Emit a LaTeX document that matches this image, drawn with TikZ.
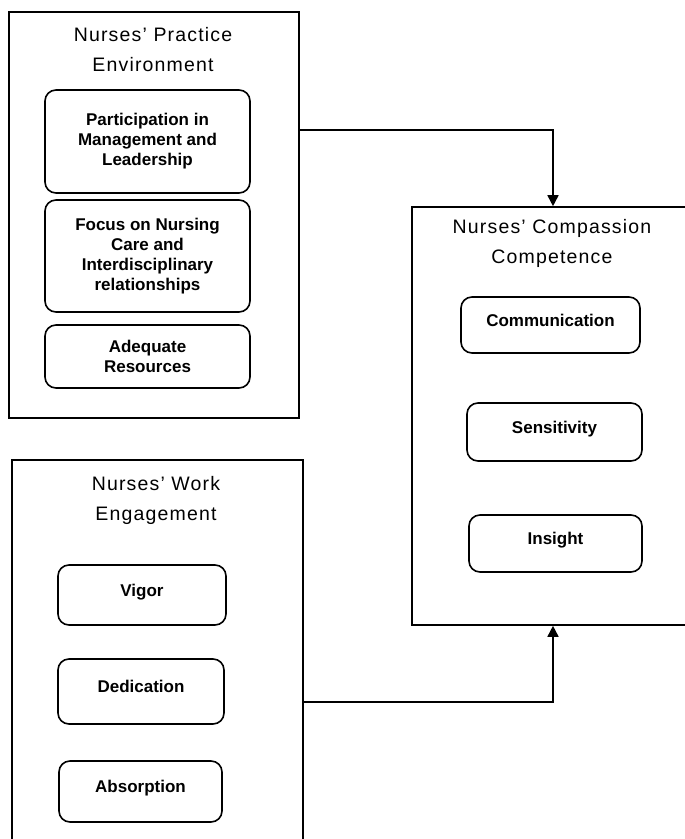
\documentclass[tikz,border=0pt]{standalone}
\usepackage{fontspec}
\setsansfont{Liberation Sans}
\newfontfamily\headfont[LetterSpace=6]{Liberation Sans}
\usetikzlibrary{arrows.meta}

\begin{document}
\begin{tikzpicture}[x = 1pt, y = -1pt, font=\sffamily]
	\tikzstyle{outerStyle} = [draw, line width = 1.6pt, inner sep = 0pt]
	\tikzstyle{titleStyle} = [align = center, inner sep = 0pt, font = \headfont\fontsize{19.5}{30}\selectfont]
	\tikzstyle{itemStyle} = [draw, line width = 1.6pt, rounded corners = 11pt, align = center, inner sep = 0pt, font = \sffamily\bfseries\fontsize{17}{20}\selectfont]
	\tikzstyle{singleStyle} = [itemStyle, text height = 12pt, text depth = 10pt]
	\tikzstyle{flowStyle} = [line width = 1.6pt, -{Triangle[length = 11pt, width = 11pt]}]
	\useasboundingbox (0, 0) rectangle (685, 839);
	\clip (0, 0) rectangle (685, 839);
	% practice environment
	\node[outerStyle, minimum width = 290pt, minimum height = 406pt] (env) at (154, 215) {};
	\node[titleStyle] (envT) at (153, 50) {Nurses’ Practice\\Environment};
	\node[itemStyle, minimum width = 205pt, minimum height = 103pt] (part) at (147.5, 141.5) {Participation in\\Management and\\Leadership};
	\node[itemStyle, minimum width = 205pt, minimum height = 112pt] (focus) at (147.5, 256) {Focus on Nursing\\Care and\\Interdisciplinary\\relationships};
	\node[itemStyle, minimum width = 205pt, minimum height = 63pt] (res) at (147.5, 356.5) {Adequate\\Resources};
	% compassion competence
	\node[outerStyle, minimum width = 282pt, minimum height = 418pt] (comp) at (553, 416) {};
	\node[titleStyle] (compT) at (552, 243.5) {Nurses’ Compassion\\Competence};
	\node[singleStyle, minimum width = 179pt, minimum height = 56pt] (comm) at (550.5, 325) {Communication};
	\node[singleStyle, minimum width = 175pt, minimum height = 58pt] (sens) at (554.5, 432) {Sensitivity};
	\node[singleStyle, minimum width = 173pt, minimum height = 57pt] (ins) at (555.5, 543.5) {Insight};
	% work engagement
	\node[outerStyle, minimum width = 291pt, minimum height = 390pt] (work) at (157.5, 655) {};
	\node[titleStyle] (workT) at (156, 500) {Nurses’ Work\\Engagement};
	\node[singleStyle, minimum width = 168pt, minimum height = 60pt] (vig) at (142, 595) {Vigor};
	\node[singleStyle, minimum width = 166pt, minimum height = 65pt] (ded) at (141, 691.5) {Dedication};
	\node[singleStyle, minimum width = 163pt, minimum height = 61pt] (abs) at (140.5, 791.5) {Absorption};
	\draw[flowStyle] ([yshift = 85pt]env.east) -| (comp.north);
	\draw[flowStyle] ([yshift = -47pt]work.east) -| (comp.south);
\end{tikzpicture}
\end{document}
